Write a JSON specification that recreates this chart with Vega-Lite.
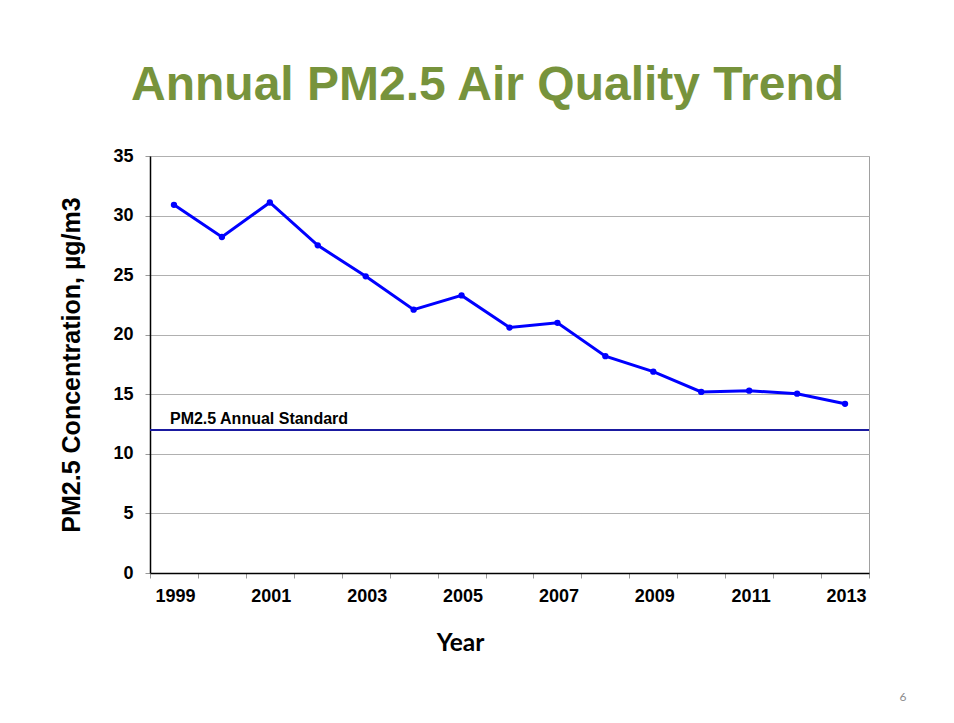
{
  "$schema": "https://vega.github.io/schema/vega-lite/v6.json",
  "width": 719,
  "height": 417,
  "autosize": {"type": "none"},
  "padding": {"left": 150, "top": 156, "right": 85, "bottom": 150},
  "background": "white",
  "title": {
    "text": "Annual PM2.5 Air Quality Trend",
    "font": "Liberation Sans",
    "fontSize": 48,
    "fontWeight": "bold",
    "color": "#77933C",
    "anchor": "middle",
    "frame": "group",
    "dx": -22,
    "offset": 37
  },
  "config": {
    "view": {"stroke": "#a0a0a0", "strokeWidth": 1},
    "font": "Liberation Sans"
  },
  "data": {
    "values": [
      {"year": "1999", "pm": 30.9},
      {"year": "2000", "pm": 28.2},
      {"year": "2001", "pm": 31.1},
      {"year": "2002", "pm": 27.5},
      {"year": "2003", "pm": 24.9},
      {"year": "2004", "pm": 22.1},
      {"year": "2005", "pm": 23.3},
      {"year": "2006", "pm": 20.6},
      {"year": "2007", "pm": 21.0},
      {"year": "2008", "pm": 18.2},
      {"year": "2009", "pm": 16.9},
      {"year": "2010", "pm": 15.2},
      {"year": "2011", "pm": 15.3},
      {"year": "2012", "pm": 15.05},
      {"year": "2013", "pm": 14.2}
    ]
  },
  "layer": [
    {
      "data": {"values": [{"standard": 12}]},
      "mark": {"type": "rule", "color": "#1a1aa0", "strokeWidth": 2},
      "encoding": {
        "y": {"field": "standard", "type": "quantitative"}
      }
    },
    {
      "data": {"values": [{"standard": 12, "label": "PM2.5 Annual Standard", "year": "1999"}]},
      "mark": {"type": "text", "font": "Liberation Sans", "fontSize": 16, "fontWeight": "bold", "align": "left", "baseline": "alphabetic", "dx": -4, "dy": -6, "color": "black"},
      "encoding": {
        "x": {"field": "year", "type": "nominal"},
        "y": {"field": "standard", "type": "quantitative"},
        "text": {"field": "label"}
      }
    },
    {
      "mark": {"type": "line", "color": "#0000FF", "strokeWidth": 3, "point": {"filled": true, "color": "#0000FF", "size": 40}},
      "encoding": {
        "x": {
          "field": "year",
          "type": "nominal",
          "sort": null,
          "scale": {"type": "band", "paddingInner": 0, "paddingOuter": 0},
          "axis": {
            "title": "Year",
            "titleFont": "Lato",
            "titleFontSize": 24.5,
            "titleFontWeight": "bold",
            "titleColor": "black",
            "titleX": 310,
            "titlePadding": 26,
            "labelAngle": 0,
            "labelFont": "Liberation Sans",
            "labelFontSize": 18,
            "labelFontWeight": "bold",
            "labelColor": "black",
            "labelPadding": 18,
            "labelOffset": 21,
            "labelExpr": "toNumber(datum.value) % 2 == 1 ? datum.label : ''",
            "tickBand": "extent",
            "tickColor": "#999999",
            "tickSize": 5,
            "domainColor": "black",
            "domainWidth": 1.5,
            "grid": false
          }
        },
        "y": {
          "field": "pm",
          "type": "quantitative",
          "scale": {"domain": [0, 35], "nice": false, "zero": true},
          "axis": {
            "title": "PM2.5 Concentration, µg/m3",
            "titleFont": "Liberation Sans",
            "titleFontSize": 25,
            "titleFontWeight": "bold",
            "titleColor": "black",
            "titlePadding": 28,
            "values": [0, 5, 10, 15, 20, 25, 30, 35],
            "labelFont": "Liberation Sans",
            "labelFontSize": 18,
            "labelFontWeight": "bold",
            "labelColor": "black",
            "labelPadding": 12,
            "tickColor": "#999999",
            "tickSize": 5,
            "domainColor": "black",
            "domainWidth": 1.5,
            "grid": true,
            "gridColor": "#b0b0b0",
            "gridWidth": 1
          }
        }
      }
    },
    {
      "data": {"values": [{"page": "6", "year": "2013", "pos": -10.74}]},
      "mark": {"type": "text", "font": "Lato", "fontSize": 12, "color": "#8c8c8c", "align": "center", "baseline": "alphabetic", "dx": 58},
      "encoding": {
        "x": {"field": "year", "type": "nominal"},
        "y": {"field": "pos", "type": "quantitative"},
        "text": {"field": "page"}
      }
    }
  ]
}
